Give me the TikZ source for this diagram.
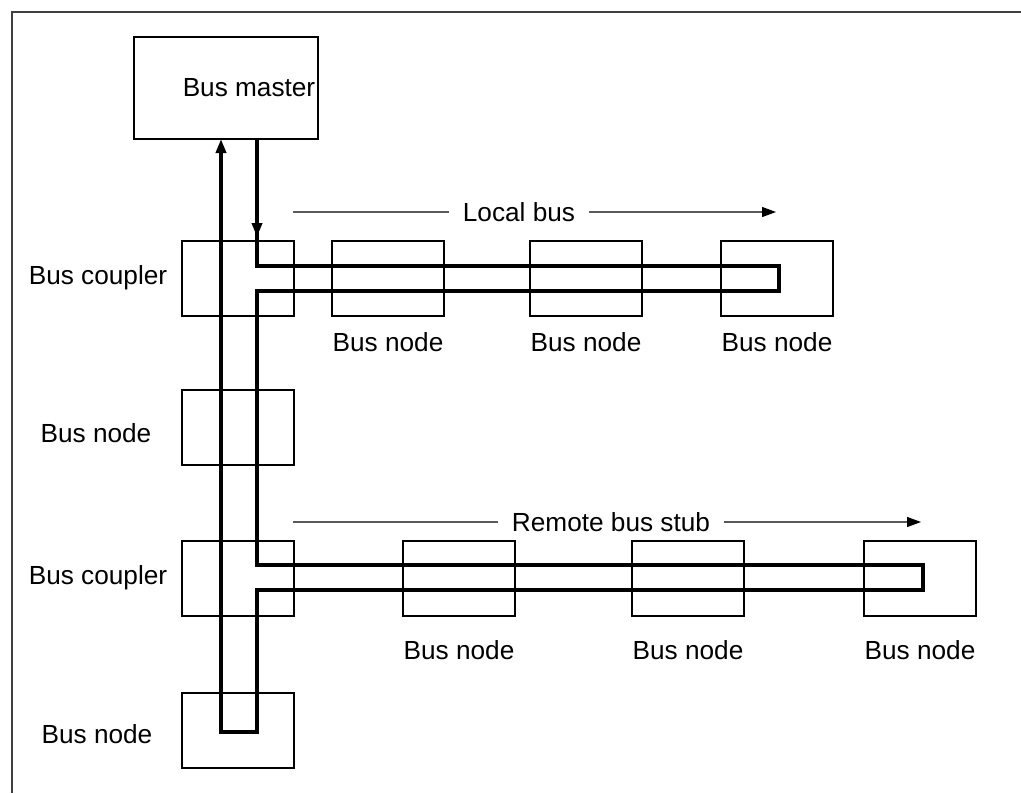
\documentclass[tikz,border=0pt]{standalone}
\usepackage{fontspec}
\setmainfont{Liberation Sans}
\usetikzlibrary{arrows.meta}
\begin{document}
\begin{tikzpicture}[x=0.5pt,y=-0.5pt,
  box/.style={draw, line width=1pt, inner sep=0pt, minimum width=56pt, minimum height=37.5pt},
  lbl/.style={inner sep=0pt, font=\fontsize{13.1}{15}\selectfont},
  tag/.style={lbl, inner xsep=7pt},
  bus/.style={line width=2.4pt},
  bustip/.style={-{Triangle[length=7pt,width=5pt]}},
  flow/.style={draw=black!65, line width=0.6pt},
  flowtip/.style={-{Triangle[length=7pt,width=5pt,color=black]}}
]
\useasboundingbox (0,0) rectangle (1021,793);
% outer frame (left and top edges)
\draw[black!75, line width=0.8pt] (12,793) -- (12,12) -- (1021,12);

% master
\node[box, minimum width=92pt, minimum height=51pt] (master) at (226,88) {};
\node[lbl] (masterlbl) at (249,88) {Bus master};

% boxes on the trunk
\node[box] (c1) at (238,278) {};
\node[box] (n2) at (238,427.5) {};
\node[box] (c2) at (238,578) {};
\node[box] (n4) at (238,730.5) {};

% local bus boxes
\node[box] (n11) at (388,278) {};
\node[box] (n12) at (586,278) {};
\node[box] (n13) at (777,278) {};

% remote bus stub boxes
\node[box] (n31) at (459,578) {};
\node[box] (n32) at (688,578) {};
\node[box] (n33) at (920,578) {};

% labels
\node[lbl] (c1lbl) at (98,278) {Bus coupler};
\node[lbl] (n2lbl) at (96,433) {Bus node};
\node[lbl] (c2lbl) at (98,578) {Bus coupler};
\node[lbl] (n4lbl) at (97,734) {Bus node};
\node[lbl] (n11lbl) at (388,342) {Bus node};
\node[lbl] (n12lbl) at (586,342) {Bus node};
\node[lbl] (n13lbl) at (777,342) {Bus node};
\node[lbl] (n31lbl) at (459,650) {Bus node};
\node[lbl] (n32lbl) at (688,650) {Bus node};
\node[lbl] (n33lbl) at (920,650) {Bus node};

% direction labels with arrows
\node[tag] (local) at (519,212) {Local bus};
\coordinate (localA) at (293,212);
\coordinate (localB) at (776,212);
\draw[flow] (localA) -- (local.west);
\draw[flow, flowtip] (local.east) -- (localB);

\node[tag] (remote) at (611,522) {Remote bus stub};
\coordinate (remoteA) at (293,522);
\coordinate (remoteB) at (921,522);
\draw[flow] (remoteA) -- (remote.west);
\draw[flow, flowtip] (remote.east) -- (remoteB);

% bus ring
\coordinate (out) at (257,139);
\coordinate (in) at (221,139);
\draw[bus, bustip] (out) -- (257,237);
\draw[bus, bustip] (257,230) -- (257,266) -- (779,266) -- (779,291) -- (257,291)
  -- (257,565) -- (923,565) -- (923,590) -- (257,590)
  -- (257,732) -- (221,732) -- (in);
\end{tikzpicture}
\end{document}
